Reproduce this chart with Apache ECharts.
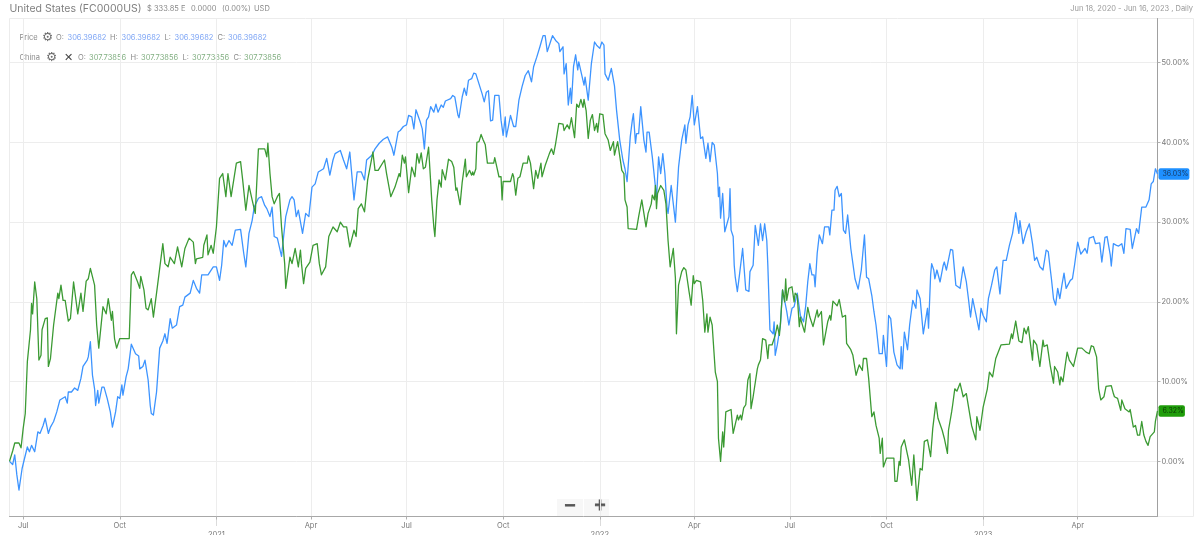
<!DOCTYPE html>
<html>
<head>
<meta charset="utf-8">
<style>html,body{margin:0;padding:0;background:#fff}#chart{width:1200px;height:535px}</style>
<script src="https://cdn.jsdelivr.net/npm/echarts@6/dist/echarts.min.js"></script>
</head>
<body>
<div id="chart"></div>
<script>
// Percent change since the start date; each pair is [days since start, percent].
const startDate = [2020, 5, 18];
const endDay = 1093;

const price = [
[0,0],[3,-0.4],[5,0.8],[7,-1.7],[9,-3.6],[12,-0.9],[14,0.2],[17,1.8],[19,1.2],[21,2.0],[24,1.2],[27,3.7],[29,3.5],[32,4.5],[34,5.4],[37,3.5],[39,4.3],[42,5.0],[45,6.2],[48,7.7],[53,8.1],[55,7.3],[56,8.7],[59,8.7],[62,9.2],[65,8.9],[68,10.4],[70,11.9],[74,12.7],[75,13.1],[77,15.0],[79,10.8],[81,9.1],[82,7.0],[84,8.9],[85,7.3],[88,9.3],[90,9.3],[93,7.9],[96,6.2],[98,4.3],[101,6.2],[103,8.1],[105,7.9],[107,9.6],[108,8.3],[111,10.6],[113,11.6],[116,14.7],[120,13.5],[123,13.2],[124,11.6],[127,11.9],[129,12.7],[132,10.2],[134,7.0],[135,6.0],[137,5.8],[140,8.7],[143,14.2],[146,15.1],[148,16.0],[150,14.8],[153,17.9],[155,16.7],[159,17.1],[162,19.4],[165,19.6],[167,20.6],[172,21.1],[175,22.7],[178,21.7],[181,21.1],[183,23.4],[189,23.4],[194,24.4],[197,24.4],[200,22.7],[202,24.6],
[204,27.7],[206,26.9],[209,27.7],[212,27.1],[215,29.0],[220,29.1],[223,26.1],[225,24.4],[228,28.6],[231,30.2],[233,31.9],[237,33.0],[240,33.2],[243,32.1],[245,31.7],[248,30.7],[250,31.9],[252,28.2],[255,28.0],[259,25.7],[261,28.2],[263,30.7],[267,32.8],[269,33.2],[271,32.8],[273,30.7],[275,31.5],[279,28.6],[282,31.1],[285,30.7],[288,34.4],[291,34.8],[294,36.3],[299,36.7],[302,38.0],[305,35.9],[308,37.8],[310,38.6],[315,39.0],[318,37.8],[321,36.7],[324,38.8],[328,32.8],[331,36.3],[335,36.3],[338,35.3],[340,37.8],[345,38.4],[348,39.2],[352,39.9],[356,40.4],[360,40.7],[364,39.4],[366,38.4],[370,41.3],
[372,41.5],[375,42.0],[378,42.2],[380,43.4],[383,43.2],[385,41.7],[387,44.1],[391,42.6],[393,41.7],[395,39.2],[397,42.8],[399,43.2],[401,44.5],[404,43.8],[406,44.8],[408,43.8],[411,44.7],[413,44.4],[415,45.2],[420,45.5],[422,45.9],[424,45.7],[427,43.4],[428,43.1],[431,45.7],[433,46.8],[435,45.9],[437,47.8],[440,48.0],[442,48.7],[444,48.6],[450,46.1],[452,45.1],[454,46.3],[456,46.5],[458,42.7],[460,42.8],[462,45.9],[466,45.9],[468,42.8],[470,40.9],[472,43.2],[473,40.7],[475,42.0],[477,43.4],[480,42.0],[482,42.0],[485,45.3],[488,47.0],[491,48.4],[494,49.0],[497,47.6],[499,49.5],[502,50.7],[505,52.0],[508,53.4],[510,53.4],[512,51.4],[515,52.6],[517,53.4],[520,52.8],[523,52.4],[524,51.4],[527,52.0],[528,48.6],[530,49.9],[532,44.7],[534,46.8],[535,44.9],[537,49.5],[539,51.0],[541,49.1],[542,50.1],[547,47.2],[548,48.2],[551,45.3],[554,49.9],[557,52.6],[559,52.2],[562,51.8],[564,52.6],[566,52.2],[567,48.6],[570,47.8],[573,49.3],[574,49.3],[576,47.1],[578,44.0],[581,40.3],[584,37.8],[586,36.7],[588,35.1],[591,40.7],[593,42.8],[594,43.6],[596,39.9],[597,41.1],[599,41.1],[601,44.5],[604,40.3],[606,38.8],[607,41.3],[609,41.3],[612,38.2],[615,34.4],[616,32.8],[618,38.2],[620,36.1],[622,38.6],[624,36.1],[626,31.9],[627,31.1],[630,34.6],[634,30.0],[637,36.9],[640,40.3],[641,40.1],[643,42.2],[644,39.9],[646,42.2],[648,43.2],[650,45.9],[652,42.2],[655,44.5],[658,40.5],[660,40.7],[663,38.0],[665,39.9],[667,37.6],[669,40.0],[671,39.7],[674,36.1],[675,33.2],[676,34.4],[677,30.5],[679,33.6],[681,28.8],[685,30.7],[686,34.2],[687,29.0],[689,28.2],[690,24.6],[691,23.1],[693,21.3],[695,23.4],[698,26.7],[701,21.5],[704,21.3],[705,23.8],[708,24.6],[710,29.6],[713,27.1],[715,29.8],[717,27.7],[719,29.8],[721,27.7],[722,24.6],[724,16.5],[727,16.0],[728,17.5],[729,13.3],[731,14.6],[734,17.1],[736,21.5],[740,18.8],[742,17.1],[745,19.2],[747,19.4],[750,21.1],[753,18.3],
[756,17.5],[758,19.4],[760,22.5],[762,24.8],[764,23.4],[766,23.4],[767,21.9],[769,26.1],[771,28.4],[774,27.3],[776,29.4],[780,29.4],[781,28.4],[783,31.5],[785,31.5],[786,34.0],[788,34.5],[790,33.2],[792,33.6],[794,29.0],[796,28.6],[798,30.9],[801,26.7],[803,24.8],[805,22.9],[808,21.6],[811,24.0],[814,28.4],[816,23.1],[818,22.9],[821,20.8],[823,18.8],[825,17.1],[828,13.5],[831,13.5],[832,15.8],[835,11.9],[837,18.3],[839,17.9],[842,13.7],[845,12.1],[848,11.6],[849,14.4],[850,11.6],[852,16.2],[855,14.0],[857,17.1],[860,20.2],[863,19.2],[864,21.5],[867,20.4],[870,16.0],[874,19.2],[875,16.7],[877,23.4],[878,24.8],[880,24.0],[881,22.9],[883,24.0],[886,22.5],[889,24.6],[890,25.0],[892,24.0],[896,26.6],[898,26.5],[901,22.1],[905,21.7],[908,24.4],[911,22.5],[913,20.4],[915,18.1],[917,20.4],[920,18.5],[923,16.5],[925,19.2],[927,18.3],[930,17.5],[932,20.4],[935,22.1],[938,24.0],[940,24.4],[943,21.0],[946,25.2],[949,25.2],[952,27.1],[955,28.6],[958,31.2],[961,28.6],[962,30.2],[965,27.3],[968,28.8],[971,29.8],[974,27.3],[976,25.2],[978,25.6],[981,24.4],[984,24.0],[987,26.5],[989,26.3],[991,24.0],[992,22.9],[994,20.4],[996,19.6],[998,21.7],[1000,20.4],[1002,22.1],[1004,23.6],[1006,21.7],[1010,22.7],[1012,22.9],[1014,24.6],[1017,27.5],[1020,26.0],[1024,26.7],[1026,26.1],[1028,28.0],[1032,28.2],[1034,27.3],[1038,27.4],[1040,25.0],[1043,28.1],[1045,28.2],[1048,25.9],[1049,24.5],[1051,27.3],[1054,27.1],[1056,27.0],[1059,27.3],[1061,26.1],[1063,29.2],[1067,29.1],[1069,26.7],[1073,29.2],[1075,28.6],[1078,31.9],[1082,31.9],[1085,32.8],[1087,34.8],[1089,35.1],[1091,36.7],[1093,36.03]
];

const china = [
[0,0],[3,1.3],[5,2.3],[9,2.3],[11,1.7],[13,4.1],[15,6.0],[17,12.5],[20,16.5],[21,19.8],[22,18.5],[24,22.5],[26,20.4],[28,12.7],[30,13.3],[31,16.5],[34,17.9],[36,18.0],[37,11.9],[39,12.9],[42,17.1],[43,16.9],[46,21.1],[47,20.4],[49,22.1],[51,20.2],[53,20.2],[56,17.6],[58,17.9],[61,22.5],[65,18.5],[68,21.1],[70,18.8],[73,22.6],[75,22.9],[77,24.2],[81,22.1],[83,17.1],[85,14.2],[89,19.4],[92,18.5],[94,20.4],[95,19.6],[97,17.7],[98,18.8],[100,15.4],[102,14.2],[105,15.4],[114,15.4],[116,23.4],[118,23.8],[122,22.5],[124,21.7],[125,23.2],[128,21.5],[130,19.2],[132,19.0],[135,20.4],[137,18.1],[140,21.1],[143,24.2],
[146,27.3],[148,24.8],[151,24.4],[153,25.6],[157,24.8],[160,26.9],[164,24.4],[167,26.7],[171,28.0],[175,27.5],[177,24.8],[178,25.4],[184,25.6],[185,27.1],[188,28.4],[189,25.9],[192,27.1],[194,26.1],[197,29.4],[200,35.5],[203,36.1],[206,33.2],[208,36.1],[211,33.2],[216,37.4],[220,37.6],[222,35.3],[225,31.5],[228,34.6],[231,32.8],[234,31.1],[237,39.2],[243,39.2],[245,38.2],[246,39.9],[248,36.1],[250,33.2],[252,32.3],[255,33.2],[257,33.6],[259,29.4],[262,24.8],[263,21.7],[267,25.6],[269,24.8],[272,26.7],[275,24.4],[277,26.5],[278,24.8],[280,22.3],[282,24.2],[286,25.0],[289,27.1],[293,27.3],[295,24.8],[297,23.4],[301,24.4],[304,28.2],[308,29.4],[312,28.8],[315,30.0],[318,29.4],[321,29.4],[324,26.9],[328,29.0],[330,28.2],[332,31.7],[335,32.3],[338,31.3],[341,35.3],[346,38.8],[348,36.5],[351,36.5],[357,37.8],[359,36.1],[363,33.2],[367,34.4],[371,36.1],
[372,35.7],[374,38.4],[376,37.4],[377,38.2],[380,33.7],[383,36.9],[386,35.7],[388,38.6],[390,37.4],[392,38.7],[394,36.7],[396,36.9],[399,39.4],[402,32.8],[404,29.4],[405,28.2],[407,32.8],[409,35.3],[411,34.4],[412,36.6],[415,35.3],[418,37.9],[421,37.6],[423,36.9],[425,34.0],[426,34.3],[429,32.2],[431,35.0],[434,37.9],[435,35.7],[438,36.5],[440,35.9],[441,36.3],[442,35.9],[444,36.7],[445,40.0],[447,40.1],[449,41.0],[451,40.3],[453,39.7],[455,37.4],[458,37.4],[461,37.4],[462,38.1],[464,36.9],[466,35.7],[468,35.7],[469,32.8],[470,35.1],[477,35.1],[479,36.1],[480,35.7],[482,33.4],[484,35.5],[486,35.7],[489,37.4],[493,37.4],[494,38.3],[496,37.4],[499,34.2],[501,36.5],[503,35.5],[506,37.4],[507,35.7],[510,37.1],[514,38.6],[516,39.2],[518,38.5],[520,39.9],[523,42.4],[527,42.3],[528,41.5],[531,42.2],[533,41.7],[535,43.1],[538,40.6],[540,44.8],[542,44.4],[544,45.4],[546,44.4],[547,45.4],[549,44.0],[551,40.5],[553,42.8],[555,43.5],[557,41.5],[559,42.4],[560,41.3],[562,43.6],[565,43.5],[567,41.1],[570,40.3],[572,39.0],[575,40.1],[576,38.4],[579,40.1],[583,36.5],[585,36.1],[586,32.8],[588,31.9],[589,29.2],[597,29.1],[599,30.7],[600,30.9],[602,32.8],[604,31.1],[606,29.4],[608,31.1],[611,32.3],[612,33.4],[614,32.8],[615,34.6],[616,31.7],[617,33.6],[620,34.6],[623,34.0],[625,32.3],[627,27.7],[629,24.4],[632,26.7],[634,23.0],[635,16.0],[637,22.1],[640,23.8],[642,24.3],[644,24.0],[647,21.3],[649,19.6],[651,23.3],[652,22.3],[654,22.7],[658,22.5],[660,20.2],[661,20.0],[662,16.2],[664,18.5],[665,16.2],[667,18.1],[669,17.1],[672,11.2],[674,10.0],[675,2.9],[677,0.0],[679,3.7],[680,1.8],[682,6.2],[687,6.5],[689,3.5],[690,3.3],[693,5.8],[694,5.2],[696,5.8],[697,5.2],[699,6.7],[701,7.1],[703,10.2],[705,11.0],[706,6.6],[708,8.1],[709,7.9],[712,11.6],[713,12.1],[715,12.7],[717,15.4],[720,15.2],[722,12.9],[723,14.6],[726,14.6],[729,15.8],[731,17.1],[733,15.8],[734,17.3],[736,21.5],[738,20.0],[739,22.9],[740,20.2],[742,21.7],[745,21.9],[747,20.0],[748,21.1],[750,20.8],[752,16.9],
[753,18.1],[754,17.5],[757,16.2],[760,19.3],[762,18.1],[765,16.9],[769,19.0],[770,18.1],[773,18.8],[775,14.6],[779,17.5],[781,18.3],[782,17.7],[784,20.1],[788,19.5],[790,20.3],[793,18.1],[796,18.3],[797,14.8],[801,14.0],[803,13.3],[806,10.8],[809,12.1],[812,11.4],[813,12.9],[816,12.9],[818,10.4],[821,5.6],[823,6.2],[825,4.5],[828,2.9],[829,1.0],[831,2.9],[832,-0.7],[835,0.4],[842,0.4],[843,-2.5],[845,-2.5],[847,0.0],[848,-0.5],[849,1.8],[852,2.7],[855,0.8],[856,0.2],[859,-3.0],[861,0.8],[864,-4.9],[867,-0.9],[869,-1.1],[871,2.5],[874,2.7],[877,0.6],[879,4.1],[882,7.4],[884,5.4],[888,3.9],[890,2.9],[893,1.0],[894,3.9],[897,6.2],[898,7.1],[900,9.1],[902,8.8],[905,9.8],[908,8.1],[911,8.5],[913,6.9],[916,4.5],[920,2.7],[921,5.6],[924,3.9],[927,6.8],[931,9.1],[933,11.2],[936,10.6],[939,12.9],[944,14.6],[952,14.7],[954,16.0],[955,15.4],[958,17.6],[961,15.1],[962,15.3],[964,14.9],[966,16.7],[968,16.0],[970,16.9],[974,12.7],[975,15.2],[978,14.6],[981,11.9],[984,15.2],[985,14.4],[988,14.6],[991,11.9],[994,9.8],[995,11.9],[998,11.2],[1000,9.6],[1001,10.6],[1003,10.0],[1005,11.9],[1007,13.7],[1009,12.7],[1013,11.9],[1017,14.2],[1021,14.2],[1025,13.7],[1028,13.5],[1030,14.5],[1032,14.4],[1035,13.1],[1037,9.1],[1039,7.7],[1042,8.1],[1044,9.4],[1049,9.5],[1051,8.5],[1052,8.1],[1055,7.9],[1058,6.4],[1059,7.7],[1062,6.6],[1066,6.2],[1067,6.5],[1070,4.3],[1072,4.5],[1074,3.3],[1076,3.3],[1078,5.0],[1080,3.3],[1082,2.5],[1084,2.0],[1086,3.1],[1090,3.7],[1091,5.0],[1093,6.32]
];

// Axis ticks: [year, month index] at the start of each quarter, and the percent gridlines.
const quarterTicks = [[2020,6],[2020,9],[2021,0],[2021,3],[2021,6],[2021,9],[2022,0],[2022,3],[2022,6],[2022,9],[2023,0],[2023,3]];
const percentTicks = [0, 10, 20, 30, 40, 50];
const monthNames = {0:'', 3:'Apr', 6:'Jul', 9:'Oct'};

const FONT = 'Inter, "Noto Sans", sans-serif';
const BLUE = '#3d94ff';
const GREEN = '#3b9a33';

const origin = new Date(startDate[0], startDate[1], startDate[2]).getTime();
const toTime = d => origin + d * 86400000;
const quarterTimes = quarterTicks.map(q => new Date(q[0], q[1], 1).getTime());
const yearTimes = quarterTicks.filter(q => q[1] === 0).map(q => new Date(q[0], q[1], 1).getTime());

function endBadge(bg, fg) {
  return {
    show: true,
    distance: 1,
    formatter: p => p.value[1].toFixed(2) + '%',
    backgroundColor: bg,
    color: fg,
    fontFamily: FONT,
    fontSize: 7,
    padding: [2.5, 1, 2, 4],
    borderRadius: 2
  };
}

function lineSeries(name, pts, color, bg, fg) {
  return {
    name, type: 'line', showSymbol: false, symbol: 'none', silent: true,
    data: pts.map(p => [toTime(p[0]), p[1]]),
    lineStyle: { color, width: 1.3, join: 'round' },
    endLabel: endBadge(bg, fg),
    labelLayout: { hideOverlap: false }
  };
}

const text = (x, y, str, fill, size, extra) => ({
  type: 'text', x, y, silent: true,
  style: Object.assign({ text: str, fill, fontFamily: FONT, fontSize: size, verticalAlign: 'middle' }, extra || {})
});

const gear = (x, y) => text(x, y, '\u2699', '#707070', 12.5, { fontFamily: '"DejaVu Sans"', align: 'center' });

// OHLC legend rows are laid out as label/value runs.
const legendGrey = '#8a8a8a';
const priceBlue = '#7fa6f5';
const chinaGreen = '#83b083';
const legendRows = [
  text(19.5, 38, 'Price', legendGrey, 7.5),
  gear(47.5, 37.5),
  text(56, 38, 'O:', legendGrey, 7.5), text(67.5, 38, '306.39682', priceBlue, 7.5),
  text(110, 38, 'H:', legendGrey, 7.5), text(121.5, 38, '306.39682', priceBlue, 7.5),
  text(164.5, 38, 'L:', legendGrey, 7.5), text(174.5, 38, '306.39682', priceBlue, 7.5),
  text(217.5, 38, 'C:', legendGrey, 7.5), text(228, 38, '306.39682', priceBlue, 7.5),
  text(19.5, 58, 'China', legendGrey, 7.5),
  gear(51.5, 57.5),
  text(68.5, 58, '\u2715', '#444', 11, { fontFamily: '"DejaVu Sans"', align: 'center', fontWeight: 'bold' }),
  text(78, 58, 'O:', legendGrey, 7.5), text(89, 58, '307.73856', chinaGreen, 7.5),
  text(130.5, 58, 'H:', legendGrey, 7.5), text(141, 58, '307.73856', chinaGreen, 7.5),
  text(182.5, 58, 'L:', legendGrey, 7.5), text(192, 58, '307.73856', chinaGreen, 7.5),
  text(233.5, 58, 'C:', legendGrey, 7.5), text(244, 58, '307.73856', chinaGreen, 7.5)
];

const header = [
  text(9.5, 8.5, 'United States (FC0000US)', '#808080', 10.5),
  text(147, 9, '$ 333.85 E', '#8a8a8a', 7.5),
  text(191, 9, '0.0000', '#8a8a8a', 7.5),
  text(222, 9, '(0.00%)', '#8a8a8a', 7.5),
  text(254, 9, 'USD', '#8a8a8a', 7.5),
  text(1193, 9, 'Jun 18, 2020 - Jun 16, 2023 , Daily', '#9a9a9a', 7.5, { align: 'right' })
];

const zoomGlyph = { align: 'center', fontWeight: 'bold', fontFamily: '"DejaVu Sans"', stroke: '#555', lineWidth: 0.8 };
const zoomButtons = [
  { type: 'rect', silent: true, shape: { x: 557, y: 499, width: 26, height: 17 }, style: { fill: '#f7f7f7' } },
  { type: 'rect', silent: true, shape: { x: 584, y: 499, width: 25, height: 17 }, style: { fill: '#f7f7f7' } },
  text(570, 506.5, '\u2212', '#555', 15, zoomGlyph),
  text(600, 506.5, '+', '#555', 15, zoomGlyph)
];

const frame = [
  { type: 'rect', silent: true, z: -1, shape: { x: 9.5, y: 18.5, width: 1184, height: 498 }, style: { fill: 'none', stroke: '#ececec', lineWidth: 1 } }
];

const chart = echarts.init(document.getElementById('chart'), null, { renderer: 'canvas' });
chart.setOption({
  animation: false,
  backgroundColor: '#fff',
  grid: { left: 9.5, right: 42.5, top: 18.5, bottom: 18.5, containLabel: false, outerBoundsMode: 'none' },
  xAxis: [{
    type: 'value', position: 'bottom',
    min: toTime(0), max: toTime(endDay),
    axisLine: { show: true, onZero: false, lineStyle: { color: '#a8a8a8', width: 1 } },
    axisTick: { show: true, customValues: quarterTimes, length: 3, lineStyle: { color: '#b0b0b0' } },
    splitLine: { show: true, lineStyle: { color: '#ededed', width: 1 } },
    axisLabel: {
      show: true, customValues: quarterTimes, margin: 5, hideOverlap: false,
      color: '#777', fontFamily: FONT, fontSize: 7.5, lineHeight: 9,
      formatter: v => {
        const d = new Date(v);
        return d.getMonth() === 0 ? '\n' + d.getFullYear() : monthNames[d.getMonth()];
      }
    }
  }, {
    // Dotted year separators below the date axis.
    type: 'value', position: 'bottom',
    min: toTime(0), max: toTime(endDay),
    axisLine: { show: false, onZero: false },
    axisTick: { show: true, customValues: yearTimes, length: 10, lineStyle: { color: '#b8b8b8', type: 'dotted' } },
    splitLine: { show: false },
    axisLabel: { show: false }
  }],
  yAxis: {
    type: 'value', position: 'right', min: -6.92, max: 55.55,
    axisLine: { show: true, onZero: false, lineStyle: { color: '#a0a0a0', width: 1 } },
    axisTick: { show: true, customValues: percentTicks, length: 3, lineStyle: { color: '#b0b0b0' } },
    splitLine: { show: true, lineStyle: { color: '#ededed', width: 1 } },
    axisLabel: {
      show: true, customValues: percentTicks, margin: 4, hideOverlap: false,
      color: '#777', fontFamily: FONT, fontSize: 7.5,
      formatter: v => v.toFixed(2) + '%'
    }
  },
  graphic: { elements: [].concat(frame, header, legendRows, zoomButtons) },
  series: [
    lineSeries('Price', price, BLUE, '#1e90ff', '#17375e'),
    lineSeries('China', china, GREEN, '#1f9d0a', '#0c3d05')
  ]
});
</script>
</body>
</html>
